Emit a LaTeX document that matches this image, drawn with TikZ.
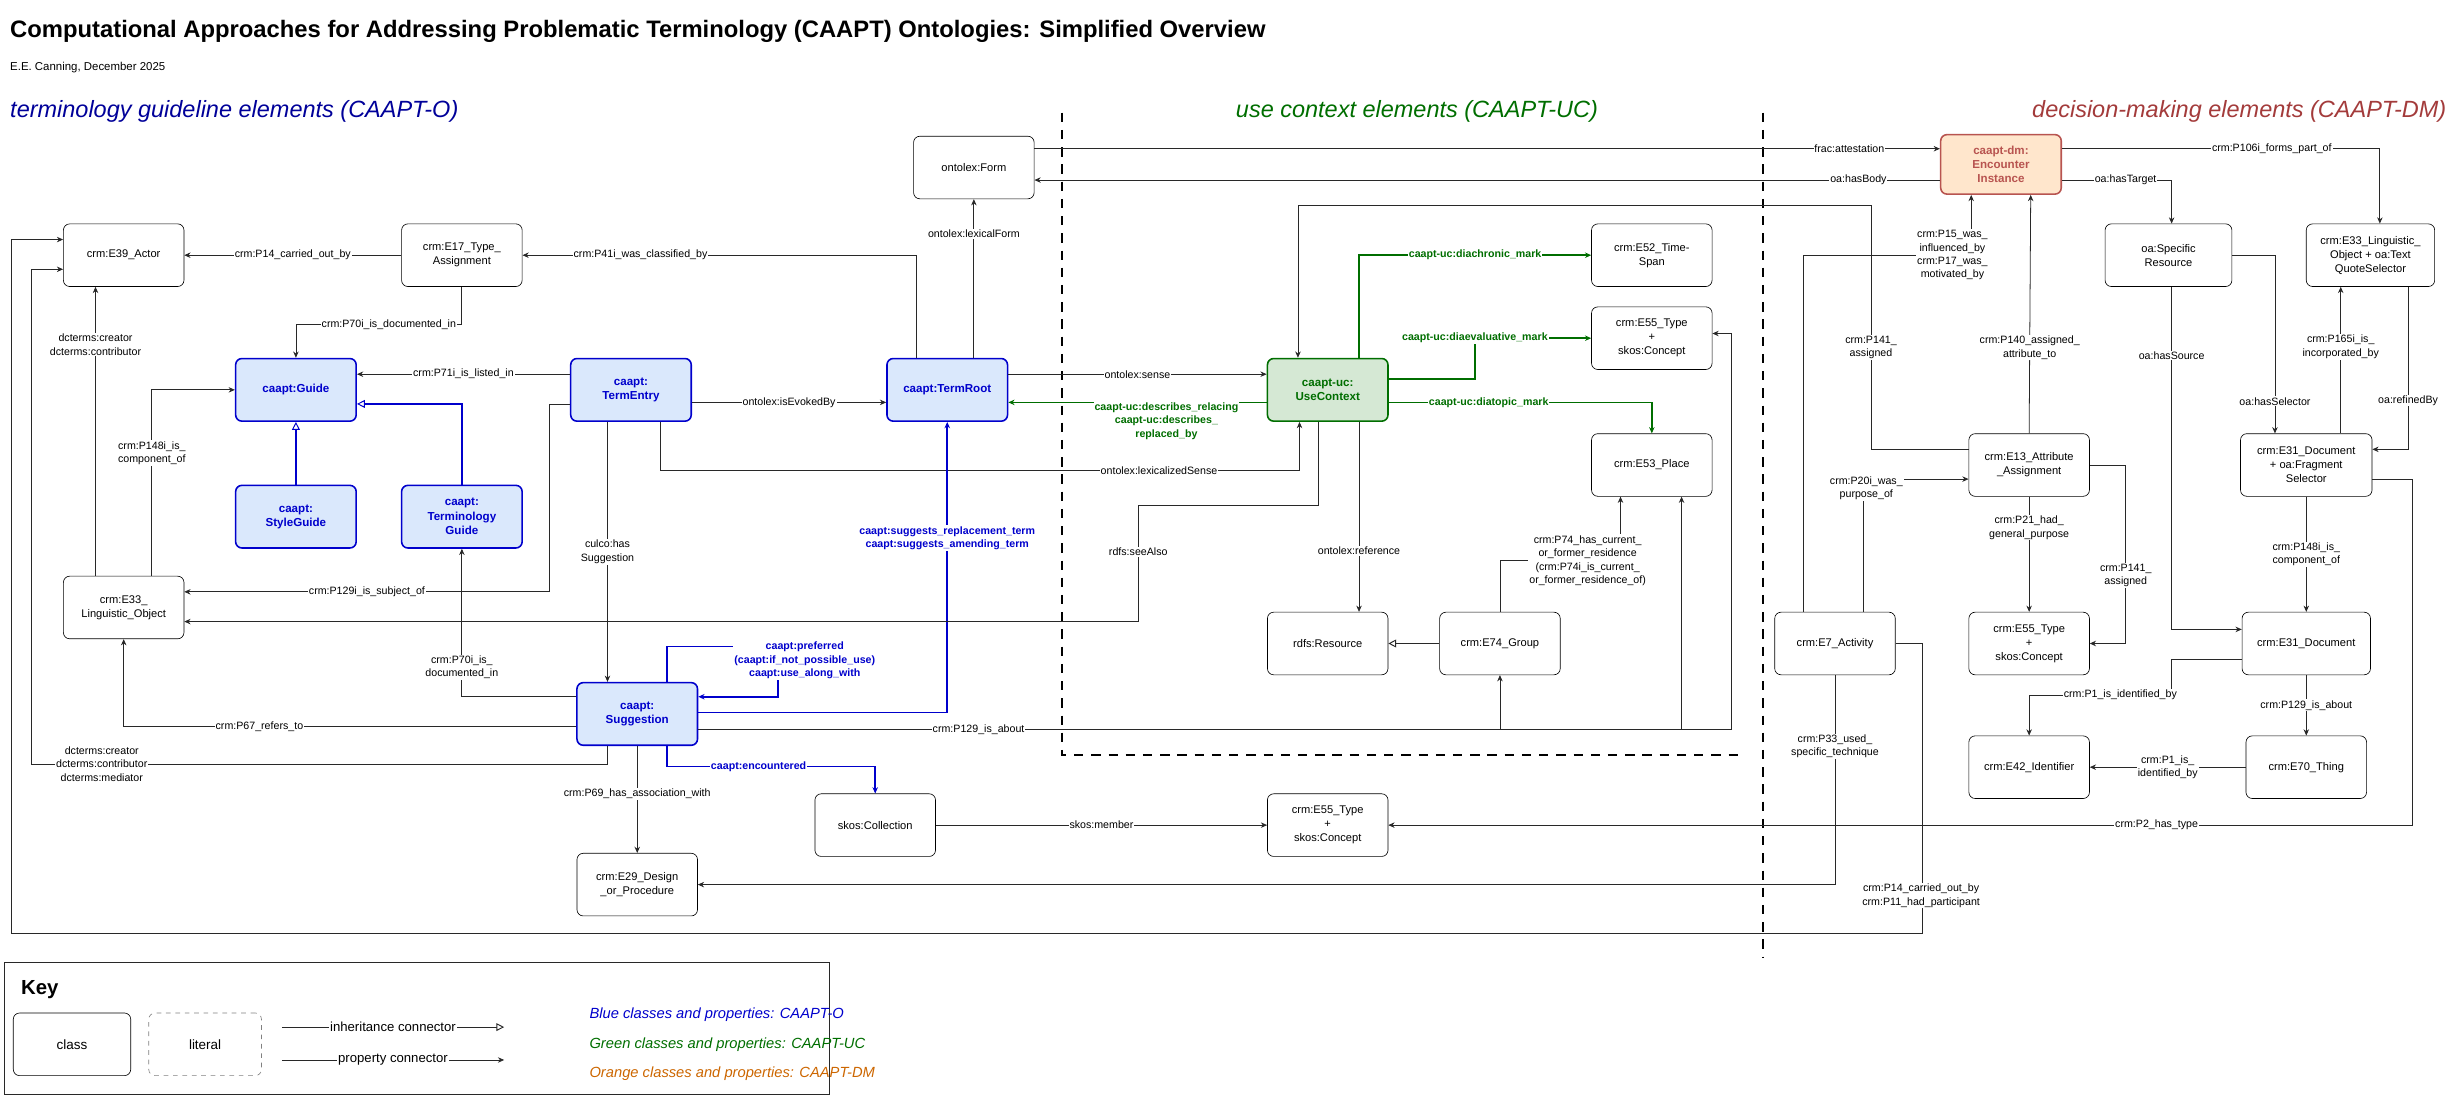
\documentclass[tikz,border=0pt]{standalone}
\usepackage{fontspec}
\setmainfont{Liberation Sans}
\usetikzlibrary{arrows.meta,positioning,calc}
\definecolor{caaptblue}{RGB}{0,0,204}
\definecolor{caaptbluefill}{RGB}{218,232,252}
\definecolor{ucgreen}{RGB}{0,110,0}
\definecolor{ucgreenfill}{RGB}{213,232,212}
\definecolor{dmred}{RGB}{184,84,80}
\definecolor{dmfill}{RGB}{255,230,204}
\definecolor{dmhead}{RGB}{163,59,59}
\definecolor{keyorange}{RGB}{204,102,0}
\definecolor{edgegray}{RGB}{40,40,40}
\tikzset{
  box/.style={draw,rounded corners=4pt,minimum width=77pt,minimum height=40pt,align=center,font=\fontsize{7.1}{9}\selectfont,inner sep=1pt},
  bluebox/.style={box,draw=caaptblue,fill=caaptbluefill,text=caaptblue,line width=1pt,font=\fontsize{7.4}{9.2}\selectfont\bfseries},
  greenbox/.style={box,draw=ucgreen,fill=ucgreenfill,text=ucgreen,line width=1pt,font=\fontsize{7.4}{9.2}\selectfont\bfseries},
  dmbox/.style={box,draw=dmred,fill=dmfill,text=dmred,line width=1pt,font=\fontsize{7.4}{9.2}\selectfont\bfseries},
  prop/.style={-{Stealth[length=4pt,width=3.5pt]},edgegray,line width=0.5pt},
  inh/.style={-{Triangle[open,length=5pt,width=5pt,line width=0.6pt,fill=white]},edgegray,line width=0.5pt},
  bprop/.style={prop,caaptblue,line width=1pt},
  gprop/.style={prop,ucgreen,line width=1pt},
  lbl/.style={fill=white,inner sep=0.6pt,align=center,font=\fontsize{6.8}{8.6}\selectfont,text=black},
  blbl/.style={lbl,text=caaptblue,font=\fontsize{6.8}{8.6}\selectfont\bfseries},
  glbl/.style={lbl,text=ucgreen,font=\fontsize{6.8}{8.6}\selectfont\bfseries},
  divider/.style={dash pattern=on 6pt off 5pt,line width=1.3pt},
}
\begin{document}
\begin{tikzpicture}[x=1pt,y=-1pt]
\useasboundingbox (0,0) rectangle (1568,700);

% headings
\node[anchor=west,font=\fontsize{15.2}{17}\selectfont\bfseries] (title) at (3,20) {Computational Approaches for Addressing Problematic Terminology (CAAPT) Ontologies: Simplified Overview};
\node[anchor=west,font=\fontsize{7.3}{8}\selectfont] (author) at (3,43) {E.E. Canning, December 2025};
\node[anchor=west,font=\fontsize{15}{17}\selectfont\itshape,text=caaptblue!75!black] (headO) at (3,71) {terminology guideline elements (CAAPT-O)};
\node[font=\fontsize{15}{17}\selectfont\itshape,text=ucgreen] (headUC) at (905,71) {use context elements (CAAPT-UC)};
\node[anchor=east,font=\fontsize{15}{17}\selectfont\itshape,text=dmhead] (headDM) at (1566,71) {decision-making elements (CAAPT-DM)};

% dividers
\draw[divider] (678,72) -- (678,482) -- (1113,482);
\draw[divider] (1126,72) -- (1126,612);

% CAAPT-O side
\node[box] (Form) at (622,107) {ontolex:Form};
\node[box] (E39) at (79,163) {crm:E39\_Actor};
\node[box] (E17) at (295,163) {crm:E17\_Type\_\\Assignment};
\node[bluebox] (Guide) at (189,249) {caapt:Guide};
\node[bluebox] (TermEntry) at (403,249) {caapt:\\TermEntry};
\node[bluebox] (TermRoot) at (605,249) {caapt:TermRoot};
\node[bluebox] (StyleGuide) at (189,330) {caapt:\\StyleGuide};
\node[bluebox] (TermGuide) at (295,330) {caapt:\\Terminology\\Guide};
\node[box] (E33) at (79,388) {crm:E33\_\\Linguistic\_Object};
\node[bluebox] (Suggestion) at (407,456) {caapt:\\Suggestion};
\node[box] (E29) at (407,565) {crm:E29\_Design\\\_or\_Procedure};
\node[box] (Collection) at (559,527) {skos:Collection};

% CAAPT-UC side
\node[greenbox] (UC) at (848,249) {caapt-uc:\\UseContext};
\node[box] (E52) at (1055,163) {crm:E52\_Time-\\Span};
\node[box] (E55u) at (1055,216) {crm:E55\_Type\\+\\skos:Concept};
\node[box] (E53) at (1055,297) {crm:E53\_Place};
\node[box] (Resource) at (848,411) {rdfs:Resource};
\node[box] (E74) at (958,411) {crm:E74\_Group};
\node[box] (E55b) at (848,527) {crm:E55\_Type\\+\\skos:Concept};

% CAAPT-DM side
\node[dmbox,minimum height=38pt] (Enc) at (1278,105) {caapt-dm:\\Encounter\\Instance};
\node[box,minimum width=81pt] (SR) at (1385,163) {oa:Specific\\Resource};
\node[box,minimum width=82pt] (E33T) at (1514,163) {crm:E33\_Linguistic\_\\Object + oa:Text\\QuoteSelector};
\node[box] (E13) at (1296,297) {crm:E13\_Attribute\\\_Assignment};
\node[box,minimum width=84pt] (E31F) at (1473,297) {crm:E31\_Document\\+ oa:Fragment\\Selector};
\node[box] (E7) at (1172,411) {crm:E7\_Activity};
\node[box] (E55d) at (1296,411) {crm:E55\_Type\\+\\skos:Concept};
\node[box,minimum width=82pt] (E31D) at (1473,411) {crm:E31\_Document};
\node[box] (E42) at (1296,490) {crm:E42\_Identifier};
\node[box] (E70) at (1473,490) {crm:E70\_Thing};

% connectors, CAAPT-O
\draw[prop] (E17) -- node[lbl]{crm:P14\_carried\_out\_by} (E39);
\draw[prop] ([xshift=-20]TermRoot.north) |- node[lbl,pos=0.85]{crm:P41i\_was\_classified\_by} (E17);
\draw[prop] ([xshift=17]TermRoot.north) -- node[lbl,pos=0.78]{ontolex:lexicalForm} (Form);
\draw[prop] (E17.south) -- ++(0,24) -| node[lbl,pos=0.22]{crm:P70i\_is\_documented\_in} (Guide.north);
\draw[prop] ([yshift=10]TermEntry.west) -- node[lbl]{crm:P71i\_is\_listed\_in} ([yshift=10]Guide.east);
\draw[prop] ([xshift=18]E33.north) |- node[lbl,pos=0.33]{crm:P148i\_is\_\\component\_of} (Guide.west);
\draw[prop] ([xshift=-18]E33.north) -- node[lbl,pos=0.8]{dcterms:creator\\dcterms:contributor} ([xshift=-18]E39.south);
\draw[inh,caaptblue,line width=1pt] (StyleGuide) -- (Guide);
\draw[inh,caaptblue,line width=1pt] (TermGuide.north) |- ([yshift=-9]Guide.east);
\draw[prop] ([yshift=-8]TermEntry.east) -- node[lbl]{ontolex:isEvokedBy} ([yshift=-8]TermRoot.west);
\draw[prop] ([yshift=-9]TermEntry.west) -- ++(-13,0) |- node[lbl,pos=0.75]{crm:P129i\_is\_subject\_of} ([yshift=10]E33.east);
\draw[prop] ([xshift=19]TermEntry.south) -- ++(0,31) -| node[lbl,pos=0.39]{ontolex:lexicalizedSense} ([xshift=-18]UC.south);
\draw[prop] ([xshift=-15]TermEntry.south) -- node[lbl]{culco:has\\Suggestion} ([xshift=-19]Suggestion.north);
\draw[prop] ([yshift=10]TermRoot.east) -- node[lbl]{ontolex:sense} ([yshift=10]UC.west);
\draw[gprop] ([yshift=-8]UC.west) -- ([yshift=-8]TermRoot.east);
\node[glbl] (describesLbl) at (745,269) {caapt-uc:describes\_relacing\\caapt-uc:describes\_\\replaced\_by};

% suggestion
\draw[bprop] ([xshift=19]Suggestion.north) |- (497,413) -- (497,445) -- ([yshift=11]Suggestion.east);
\node[blbl] (preferredLbl) at (514,422) {caapt:preferred\\(caapt:if\_not\_possible\_use)\\caapt:use\_along\_with};
\draw[bprop] ([yshift=1]Suggestion.east) -| node[blbl,pos=0.8]{caapt:suggests\_replacement\_term\\caapt:suggests\_amending\_term} (TermRoot.south);
\draw[prop] ([yshift=-8]Suggestion.west) -| node[lbl,pos=0.35]{crm:P67\_refers\_to} (E33.south);
\draw[prop] ([xshift=-19]Suggestion.south) |- (20,488) |- ([yshift=-9]E39.west);
\node[lbl] (dctermsLbl) at (65,488) {dcterms:creator\\dcterms:contributor\\dcterms:mediator};
\draw[prop] ([yshift=11]Suggestion.west) -| node[lbl,pos=0.6]{crm:P70i\_is\_\\documented\_in} (TermGuide.south);
\draw[prop] (Suggestion) -- node[lbl,pos=0.45]{crm:P69\_has\_association\_with} (E29);
\draw[bprop] ([xshift=19]Suggestion.south) -- ++(0,13) -| node[blbl,pos=0.22]{caapt:encountered} (Collection.north);
\draw[prop] (Collection) -- node[lbl]{skos:member} (E55b);
\draw[prop] ([yshift=-10]Suggestion.east) -| (E74.south);
\draw[prop] ([yshift=-10]Suggestion.east) -| ([xshift=19]E53.south);
\draw[prop] ([yshift=-10]Suggestion.east) -| (1106,213) -- ([yshift=3]E55u.east);
\node[lbl] (aboutLbl) at (625,466) {crm:P129\_is\_about};

% connectors, CAAPT-UC
\draw[gprop] ([xshift=20]UC.north) |- node[glbl,pos=0.75]{caapt-uc:diachronic\_mark} (E52.west);
\draw[gprop] ([yshift=7]UC.east) -| (942,216) -- (E55u.west);
\node[glbl] (diaevalLbl) at (942,216) {caapt-uc:diaevaluative\_mark};
\draw[gprop] ([yshift=-8]UC.east) -| node[glbl,pos=0.19]{caapt-uc:diatopic\_mark} (E53.north);
\draw[prop] ([xshift=20]UC.south) -- node[lbl,pos=0.68]{ontolex:reference} ([xshift=20]Resource.north);
\draw[prop] ([xshift=-6]UC.south) |- (727,323) |- node[lbl,pos=0.2]{rdfs:seeAlso} ([yshift=-9]E33.east);
\draw[inh] (E74) -- (Resource);
\draw[prop] (E74.north) -- ++(0,-33) -| ([xshift=-20]E53.south);
\node[lbl] (residenceLbl) at (1014,358) {crm:P74\_has\_current\_\\or\_former\_residence\\(crm:P74i\_is\_current\_\\or\_former\_residence\_of)};

% connectors, CAAPT-DM
\draw[prop] ([yshift=12]Form.east) -- node[lbl,pos=0.9]{frac:attestation} ([yshift=10]Enc.west);
\draw[prop] ([yshift=-10]Enc.west) -- node[lbl,pos=0.09]{oa:hasBody} ([yshift=-8]Form.east);
\draw[prop] ([yshift=10]E13.west) -| (1195,131) -| ([xshift=-19]UC.north);
\node[lbl] (p141Lbl) at (1195,222) {crm:P141\_\\assigned};
\draw[prop] (E13.north) -- node[lbl,pos=0.36]{crm:P140\_assigned\_\\attribute\_to} ([xshift=19]Enc.south);
\draw[prop] ([xshift=-20]E7.north) |- (1259,163) -- ([xshift=-19]Enc.south);
\node[lbl] (influencedLbl) at (1247,163) {crm:P15\_was\_\\influenced\_by\\crm:P17\_was\_\\motivated\_by};
\draw[prop] ([xshift=18]E7.north) |- ([yshift=-9]E13.west);
\node[lbl] (purposeLbl) at (1192,312) {crm:P20i\_was\_\\purpose\_of};
\draw[prop] (E13) -- node[lbl,pos=0.27]{crm:P21\_had\_\\general\_purpose} (E55d);
\draw[prop] (E13.east) -- ++(23,0) |- node[lbl,pos=0.31]{crm:P141\_\\assigned} (E55d.east);
\draw[prop] (E7.east) -- ++(17,0) |- (7,596) |- ([yshift=10]E39.west);
\node[lbl] (carriedLbl) at (1227,572) {crm:P14\_carried\_out\_by\\crm:P11\_had\_participant};
\draw[prop] (E7.south) |- node[lbl,pos=0.17]{crm:P33\_used\_\\specific\_technique} (E29.east);
\draw[prop] ([yshift=10]Enc.east) -| node[lbl,pos=0.33]{crm:P106i\_forms\_part\_of} ([xshift=6]E33T.north);
\draw[prop] ([yshift=-10]Enc.east) -| node[lbl,pos=0.29]{oa:hasTarget} ([xshift=2]SR.north);
\draw[prop] ([xshift=2]SR.south) |- node[lbl,pos=0.1]{oa:hasSource} ([yshift=9]E31D.west);
\draw[prop] (SR.east) -| node[lbl,pos=0.91]{oa:hasSelector} ([xshift=-20]E31F.north);
\draw[prop] ([xshift=22]E31F.north) -- node[lbl,pos=0.59]{crm:P165i\_is\_\\incorporated\_by} ([xshift=-19]E33T.south);
\draw[prop] ([xshift=24]E33T.south) |- node[lbl,pos=0.35]{oa:refinedBy} ([yshift=10]E31F.east);
\draw[prop] (E31F) -- node[lbl]{crm:P148i\_is\_\\component\_of} (E31D);
\draw[prop] ([yshift=-9]E31F.east) -- (1541,306) |- node[lbl,pos=0.625]{crm:P2\_has\_type} (E55b.east);
\draw[prop] ([yshift=-10]E31D.west) -| (1387,444) -| node[lbl,pos=0.18]{crm:P1\_is\_identified\_by} (E42.north);
\draw[prop] (E31D) -- node[lbl]{crm:P129\_is\_about} (E70);
\draw[prop] (E70) -- node[lbl]{crm:P1\_is\_\\identified\_by} (E42);

% key
\draw[edgegray,line width=0.6pt] (3,615) rectangle (530,699);
\node[anchor=west,font=\fontsize{13}{15}\selectfont\bfseries] (keyTitle) at (10,632) {Key};
\node[box,minimum width=75pt,font=\fontsize{8.6}{10}\selectfont] (keyClass) at (46,667) {class};
\node[box,minimum width=72pt,dashed,draw=gray,font=\fontsize{8.6}{10}\selectfont] (keyLiteral) at (131,667) {literal};
\coordinate (inhStart) at (180,656);
\coordinate (inhEnd) at (322,656);
\draw[inh] (inhStart) -- node[lbl,font=\fontsize{8.4}{10}\selectfont]{inheritance connector} (inhEnd);
\coordinate (propStart) at (180,677);
\coordinate (propEnd) at (322,677);
\draw[prop] (propStart) -- node[lbl,font=\fontsize{8.4}{10}\selectfont]{property connector} (propEnd);
\node[anchor=west,font=\fontsize{9.4}{11}\selectfont\itshape,text=caaptblue] (keyBlue) at (373,648) {Blue classes and properties: CAAPT-O};
\node[anchor=west,font=\fontsize{9.4}{11}\selectfont\itshape,text=ucgreen] (keyGreen) at (373,667) {Green classes and properties: CAAPT-UC};
\node[anchor=west,font=\fontsize{9.4}{11}\selectfont\itshape,text=keyorange] (keyOrange) at (373,686) {Orange classes and properties: CAAPT-DM};
\end{tikzpicture}
\end{document}
